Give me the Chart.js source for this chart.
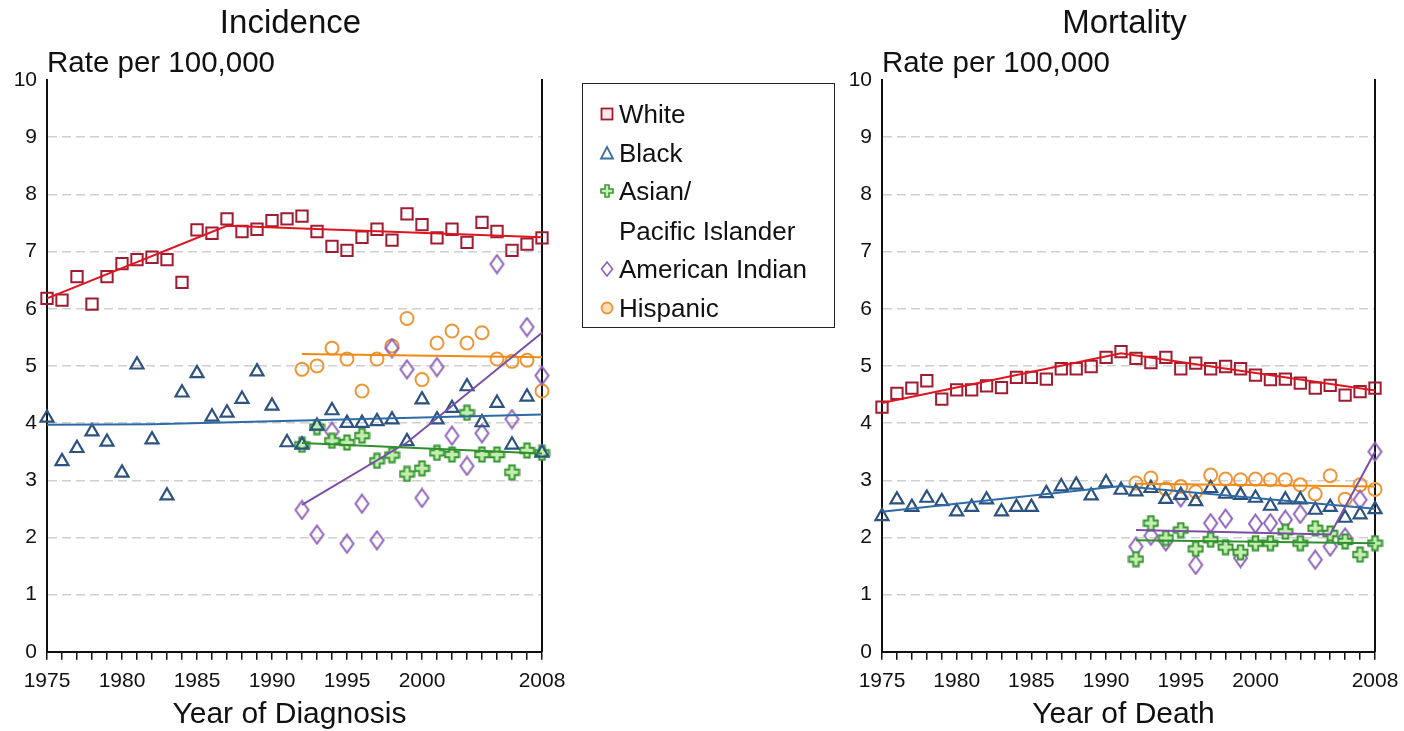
<!DOCTYPE html>
<html>
<head>
<meta charset="utf-8">
<title>Incidence and Mortality</title>
<script src="https://cdn.jsdelivr.net/npm/chart.js@4.4.0/dist/chart.umd.min.js"></script>
<style>
  body { margin: 0; background: #fff; width: 1404px; height: 731px; overflow: hidden; position: relative;
         font-family: "Liberation Sans", Arial, Helvetica, sans-serif; color: #111; }
  canvas { position: absolute; top: 0; }
  #incCanvas { left: 0; }
  #mortCanvas { left: 830px; }
  #legend { position: absolute; left: 582px; top: 83px; width: 253px; height: 245px;
            border: 1.5px solid #222; box-sizing: border-box; }
  .row { position: absolute; left: 0; height: 30px; line-height: 30px; font-size: 26px; white-space: nowrap; }
  .row svg { position: absolute; left: 16px; top: 7px; }
  .row span { position: absolute; left: 36px; }
</style>
</head>
<body>
<canvas id="incCanvas" width="575" height="731"></canvas>
<canvas id="mortCanvas" width="578" height="731"></canvas>

<div id="legend">
  <div class="row" style="top:15px"><svg width="16" height="16"><rect x="2.5" y="2.5" width="11" height="11" fill="#fde8ec" stroke="#a01c30" stroke-width="1.8"/></svg><span>White</span></div>
  <div class="row" style="top:54px"><svg width="16" height="16"><polygon points="8,2 14,13.5 2,13.5" fill="none" stroke="#3b6d9e" stroke-width="1.8"/></svg><span>Black</span></div>
  <div class="row" style="top:92px"><svg width="16" height="16"><polygon points="6,2 10,2 10,6 14,6 14,10 10,10 10,14 6,14 6,10 2,10 2,6 6,6" fill="#c9efb8" stroke="#3b9a33" stroke-width="1.6"/></svg><span>Asian/</span></div>
  <div class="row" style="top:132px"><span>Pacific Islander</span></div>
  <div class="row" style="top:170px"><svg width="16" height="16"><polygon points="8,1 13.5,8 8,15 2.5,8" fill="none" stroke="#8f62b8" stroke-width="1.6"/></svg><span>American Indian</span></div>
  <div class="row" style="top:209px"><svg width="16" height="16"><circle cx="8" cy="8" r="5.5" fill="#fcdcb4" stroke="#ee9638" stroke-width="1.8"/></svg><span>Hispanic</span></div>
</div>

<script>
// --- data ---
const yearsAll = [1975, 1976, 1977, 1978, 1979, 1980, 1981, 1982, 1983, 1984, 1985, 1986,
  1987, 1988, 1989, 1990, 1991, 1992, 1993, 1994, 1995, 1996, 1997, 1998, 1999, 2000,
  2001, 2002, 2003, 2004, 2005, 2006, 2007, 2008];
const years92 = [1992, 1993, 1994, 1995, 1996, 1997, 1998, 1999, 2000, 2001, 2002, 2003,
  2004, 2005, 2006, 2007, 2008];
const labeledYears = [1975, 1980, 1985, 1990, 1995, 2000, 2008];
const yTicks = [0, 1, 2, 3, 4, 5, 6, 7, 8, 9, 10];

// Incidence
const incWhite = [6.18, 6.15, 6.56, 6.08, 6.56, 6.79, 6.86, 6.90, 6.86, 6.46, 7.38, 7.32,
  7.57, 7.35, 7.39, 7.54, 7.57, 7.62, 7.35, 7.09, 7.02, 7.25, 7.39, 7.20, 7.66, 7.47,
  7.24, 7.39, 7.16, 7.51, 7.35, 7.02, 7.13, 7.24];
const incBlack = [4.09, 3.33, 3.56, 3.85, 3.67, 3.13, 5.02, 3.71, 2.73, 4.53, 4.87, 4.11,
  4.18, 4.42, 4.90, 4.30, 3.66, 3.62, 3.95, 4.22, 4.00, 4.00, 4.03, 4.06, 3.68, 4.41,
  4.06, 4.26, 4.64, 4.01, 4.35, 3.62, 4.46, 3.48];
const incAsian = [3.62, 3.93, 3.69, 3.66, 3.78, 3.34, 3.44, 3.11, 3.21, 3.48, 3.45, 4.18,
  3.45, 3.45, 3.14, 3.52, 3.48];
const incAmInd = [2.48, 2.05, 3.85, 1.89, 2.59, 1.95, 5.31, 4.94, 2.69, 4.98, 3.78, 3.25,
  3.82, 6.78, 4.07, 5.68, 4.83];
const incHisp = [4.94, 5.00, 5.31, 5.12, 4.56, 5.12, 5.35, 5.83, 4.76, 5.40, 5.61, 5.40,
  5.58, 5.12, 5.08, 5.10, 4.56];

// Incidence trend lines (joinpoint years and fitted values)
const incWhiteTrendYears = [1975, 1987, 2008];
const incWhiteTrend = [6.18, 7.45, 7.25];
const incBlackTrendYears = [1975, 1982, 2008];
const incBlackTrend = [3.97, 3.98, 4.15];
const incAsianTrendYears = [1992, 2008];
const incAsianTrend = [3.65, 3.47];
const incAmIndTrendYears = [1992, 1999, 2008];
const incAmIndTrend = [2.57, 3.66, 5.58];
const incHispTrendYears = [1992, 2008];
const incHispTrend = [5.21, 5.15];

// Mortality
const mortWhite = [4.28, 4.52, 4.61, 4.74, 4.42, 4.58, 4.58, 4.65, 4.62, 4.80, 4.80, 4.77,
  4.95, 4.95, 4.99, 5.15, 5.25, 5.13, 5.06, 5.15, 4.95, 5.05, 4.95, 4.99, 4.95, 4.84,
  4.76, 4.77, 4.70, 4.61, 4.66, 4.49, 4.55, 4.61];
const mortBlack = [2.37, 2.66, 2.53, 2.69, 2.63, 2.45, 2.53, 2.66, 2.45, 2.53, 2.53, 2.77,
  2.89, 2.92, 2.73, 2.96, 2.83, 2.80, 2.86, 2.67, 2.74, 2.63, 2.86, 2.76, 2.74, 2.69,
  2.55, 2.66, 2.66, 2.48, 2.53, 2.34, 2.40, 2.49];
const mortAsian = [1.62, 2.25, 1.99, 2.13, 1.80, 1.96, 1.83, 1.74, 1.90, 1.90, 2.10, 1.90,
  2.16, 2.07, 1.93, 1.70, 1.90];
const mortAmInd = [1.84, 2.03, 1.93, 2.70, 1.52, 2.25, 2.33, 1.64, 2.24, 2.25, 2.31, 2.41,
  1.61, 1.84, 2.00, 2.66, 3.50];
const mortHisp = [2.95, 3.04, 2.85, 2.89, 2.80, 3.09, 3.02, 3.01, 3.02, 3.01, 3.01, 2.92,
  2.76, 3.08, 2.67, 2.92, 2.84];

const mortWhiteTrendYears = [1975, 1991, 2008];
const mortWhiteTrend = [4.35, 5.22, 4.57];
const mortBlackTrendYears = [1975, 1991, 2008];
const mortBlackTrend = [2.45, 2.90, 2.50];
const mortAsianTrendYears = [1992, 2008];
const mortAsianTrend = [1.95, 1.90];
const mortAmIndTrendYears = [1992, 2005, 2008];
const mortAmIndTrend = [2.13, 2.05, 3.50];
const mortHispTrendYears = [1992, 2008];
const mortHispTrend = [2.94, 2.89];

const FONT = '"Liberation Sans", Arial, Helvetica, sans-serif';

// custom markers: hollow fat plus and tall diamond
function crossMarker() {
  const c = document.createElement('canvas');
  c.width = 17; c.height = 17;
  const g = c.getContext('2d');
  const a = 2.8, l = 7, m = 8.5;
  g.beginPath();
  g.moveTo(m - a, m - l); g.lineTo(m + a, m - l); g.lineTo(m + a, m - a);
  g.lineTo(m + l, m - a); g.lineTo(m + l, m + a); g.lineTo(m + a, m + a);
  g.lineTo(m + a, m + l); g.lineTo(m - a, m + l); g.lineTo(m - a, m + a);
  g.lineTo(m - l, m + a); g.lineTo(m - l, m - a); g.lineTo(m - a, m - a);
  g.closePath();
  g.fillStyle = '#c4eeb0';
  g.fill();
  g.strokeStyle = '#359330';
  g.lineWidth = 1.9;
  g.stroke();
  return c;
}
function diamondMarker() {
  const c = document.createElement('canvas');
  c.width = 17; c.height = 21;
  const g = c.getContext('2d');
  g.beginPath();
  g.moveTo(8.5, 1.5); g.lineTo(15, 10.5); g.lineTo(8.5, 19.5); g.lineTo(2, 10.5);
  g.closePath();
  g.strokeStyle = '#8f62b8';
  g.lineWidth = 2;
  g.stroke();
  return c;
}
const crossImg = crossMarker();
const diamondImg = diamondMarker();

const markerStyles = {
  white: { pointStyle: 'rect', pointRadius: 8, pointBorderColor: '#a01c30', pointBorderWidth: 2 },
  black: { pointStyle: 'triangle', pointRadius: 7.5, pointBorderColor: '#2c527f', pointBorderWidth: 2.2 },
  asian: { pointStyle: crossImg, pointRadius: 8 },
  amind: { pointStyle: diamondImg, pointRadius: 9 },
  hisp:  { pointStyle: 'circle', pointRadius: 6.5, pointBorderColor: '#ee9638', pointBorderWidth: 2 }
};
const lineColors = { white: '#e0141e', black: '#2e6aa6', asian: '#2f8f2f', amind: '#7b4ea6', hisp: '#f08a12' };

function toPoints(xs, ys) {
  return xs.map((x, i) => ({ x: x, y: ys[i] }));
}

function markerSet(key, xs, ys) {
  return Object.assign({
    data: toPoints(xs, ys),
    showLine: false,
    pointBackgroundColor: 'rgba(255,255,255,0)',
    pointHoverRadius: 0,
    clip: false,
    order: 2
  }, markerStyles[key]);
}

function trendSet(key, xs, ys) {
  return {
    data: toPoints(xs, ys),
    showLine: true,
    borderColor: lineColors[key],
    borderWidth: 2,
    pointRadius: 0,
    fill: false,
    clip: false,
    order: 1
  };
}

const headerPlugin = {
  id: 'header',
  afterDraw(chart, args, opts) {
    const a = chart.chartArea, ctx = chart.ctx;
    const cx = (a.left + a.right) / 2;
    ctx.save();
    ctx.fillStyle = '#111';
    ctx.textBaseline = 'alphabetic';
    ctx.textAlign = 'center';
    ctx.font = '33px ' + FONT;
    ctx.fillText(opts.title, cx - 4, 33);
    ctx.textAlign = 'left';
    ctx.font = '29.5px ' + FONT;
    ctx.fillText(opts.sub, a.left, 72);
    ctx.textAlign = 'center';
    ctx.font = '30px ' + FONT;
    ctx.fillText(opts.xTitle, cx - 5, 723);
    ctx.restore();
  }
};

function makeChart(id, title, xTitle, pad, datasets) {
  return new Chart(document.getElementById(id), {
    type: 'scatter',
    data: { datasets: datasets },
    plugins: [headerPlugin],
    options: {
      responsive: false,
      animation: false,
      devicePixelRatio: 1,
      events: [],
      layout: { padding: pad },
      plugins: {
        legend: { display: false },
        tooltip: { enabled: false },
        header: { title: title, sub: 'Rate per 100,000', xTitle: xTitle }
      },
      scales: {
        x: {
          type: 'linear',
          min: 1975,
          max: 2008,
          afterBuildTicks: (scale) => { scale.ticks = yearsAll.map(v => ({ value: v })); },
          ticks: {
            autoSkip: false,
            maxRotation: 0,
            padding: 9,
            color: '#111',
            font: { family: FONT, size: 21 },
            callback: (v) => labeledYears.includes(v) ? String(v) : ''
          },
          grid: { drawOnChartArea: false, drawTicks: true, tickLength: 8, color: '#111', lineWidth: 1.5 },
          border: { display: true, color: '#111', width: 2 }
        },
        y: {
          min: 0,
          max: 10,
          afterBuildTicks: (scale) => { scale.ticks = yTicks.map(v => ({ value: v })); },
          afterFit: (scale) => { scale.width = 40; },
          ticks: { padding: 10, color: '#111', font: { family: FONT, size: 21 } },
          grid: {
            drawTicks: false,
            lineWidth: 1.5,
            color: (c) => (c.tick && (c.tick.value === 0 || c.tick.value === 10)) ? 'rgba(0,0,0,0)' : '#cfcfcf'
          },
          border: { display: true, color: '#111', width: 2, dash: [9, 5] }
        },
        y2: {
          position: 'right',
          min: 0,
          max: 10,
          afterFit: (scale) => { scale.width = 2; },
          ticks: { display: false },
          grid: { display: false, drawTicks: false },
          border: { display: true, color: '#111', width: 2 }
        }
      }
    }
  });
}

makeChart('incCanvas', 'Incidence', 'Year of Diagnosis',
  { left: 7, right: 31, top: 80, bottom: 28 },
  [
    trendSet('white', incWhiteTrendYears, incWhiteTrend),
    trendSet('black', incBlackTrendYears, incBlackTrend),
    trendSet('asian', incAsianTrendYears, incAsianTrend),
    trendSet('amind', incAmIndTrendYears, incAmIndTrend),
    trendSet('hisp', incHispTrendYears, incHispTrend),
    markerSet('white', yearsAll, incWhite),
    markerSet('black', yearsAll, incBlack),
    markerSet('asian', years92, incAsian),
    markerSet('amind', years92, incAmInd),
    markerSet('hisp', years92, incHisp)
  ]);

makeChart('mortCanvas', 'Mortality', 'Year of Death',
  { left: 12, right: 31, top: 80, bottom: 28 },
  [
    trendSet('white', mortWhiteTrendYears, mortWhiteTrend),
    trendSet('black', mortBlackTrendYears, mortBlackTrend),
    trendSet('asian', mortAsianTrendYears, mortAsianTrend),
    trendSet('amind', mortAmIndTrendYears, mortAmIndTrend),
    trendSet('hisp', mortHispTrendYears, mortHispTrend),
    markerSet('white', yearsAll, mortWhite),
    markerSet('black', yearsAll, mortBlack),
    markerSet('asian', years92, mortAsian),
    markerSet('amind', years92, mortAmInd),
    markerSet('hisp', years92, mortHisp)
  ]);
</script>
</body>
</html>
